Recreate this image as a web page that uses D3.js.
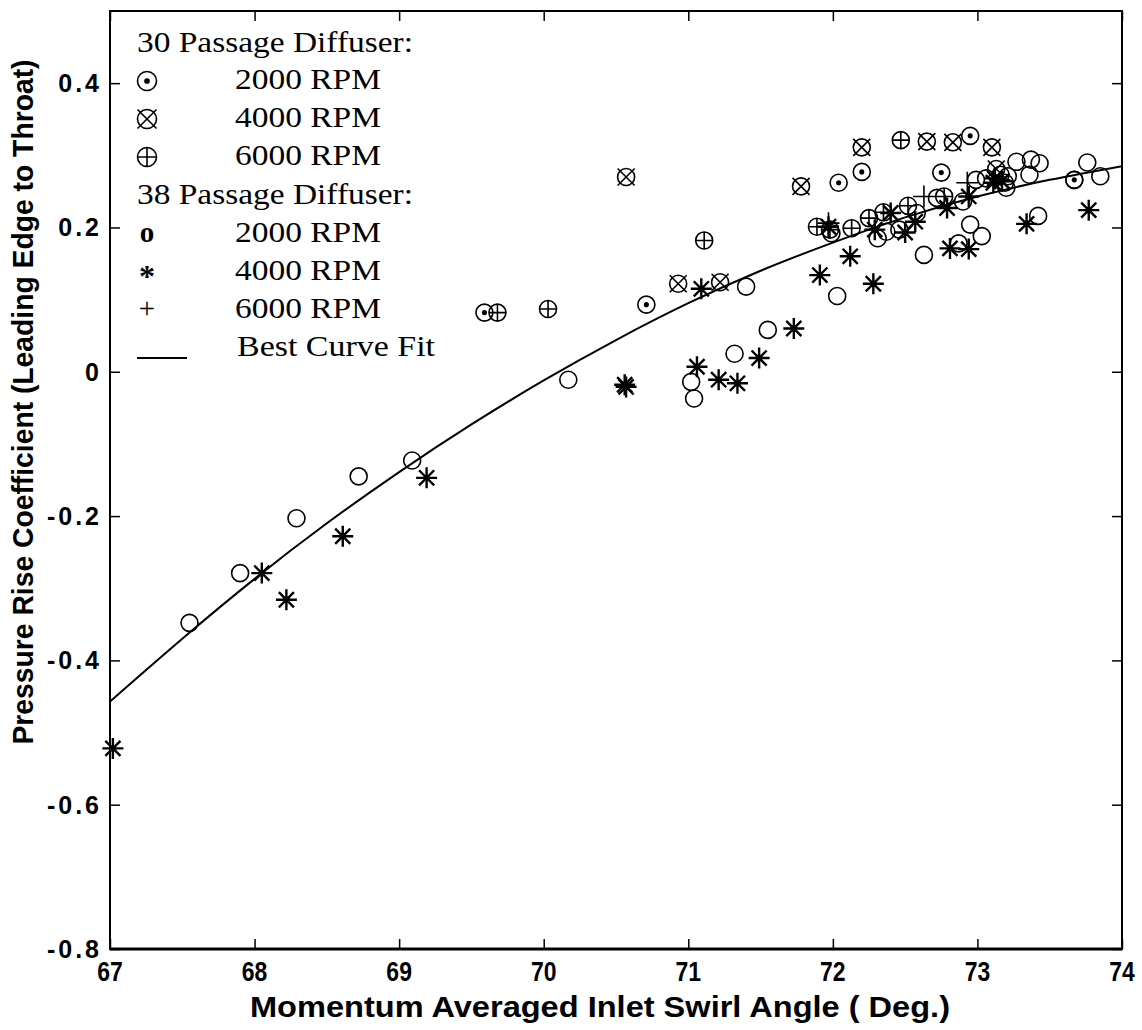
<!DOCTYPE html>
<html><head><meta charset="utf-8">
<script src="https://cdn.jsdelivr.net/npm/d3@7"></script>
<style>body{margin:0;background:#fff}</style>
</head><body>
<svg id="chart" width="1142" height="1030"></svg>
<script>
// ---- data ----
const xTicks = [67, 68, 69, 70, 71, 72, 73, 74];
const yTicks = [0.4, 0.2, 0, -0.2, -0.4, -0.6, -0.8];
const yTickLabels = ["0.4", "0.2", "0", "-0.2", "-0.4", "-0.6", "-0.8"];

// 30 passage diffuser
const p30_2000 = [[69.59,0.082],[70.71,0.093],[72.04,0.262],[72.20,0.277],[72.75,0.276],[72.95,0.327],[73.67,0.266]];
const p30_4000 = [[70.57,0.270],[70.93,0.122],[71.22,0.124],[71.78,0.257],[72.20,0.311],[72.65,0.319],[72.83,0.318],[73.10,0.311],[73.13,0.281]];
const p30_6000 = [[69.68,0.082],[70.03,0.087],[71.11,0.182],[71.89,0.201],[71.98,0.197],[72.13,0.199],[72.25,0.213],[72.35,0.221],[72.47,0.321],[72.52,0.230],[72.77,0.243]];
// 38 passage diffuser
const p38_2000 = [[67.55,-0.348],[67.90,-0.279],[68.29,-0.203],[68.72,-0.145],[69.09,-0.123],[70.17,-0.011],
  [71.02,-0.014],[71.04,-0.037],[71.32,0.025],[71.40,0.118],[71.55,0.058],[71.99,0.192],[72.03,0.105],
  [72.31,0.185],[72.37,0.194],[72.46,0.197],[72.58,0.220],[72.63,0.162],[72.72,0.241],[72.87,0.178],
  [72.90,0.236],[72.95,0.204],[73.03,0.188],[72.99,0.266],[73.06,0.268],[73.16,0.273],[73.21,0.271],
  [73.19,0.262],[73.20,0.255],[73.27,0.291],[73.37,0.294],[73.43,0.289],[73.36,0.273],[73.42,0.216],
  [73.67,0.266],[73.76,0.290],[73.85,0.271]];
const p38_4000 = [[67.02,-0.522],[68.05,-0.279],[68.22,-0.316],[68.61,-0.228],[69.19,-0.147],[70.56,-0.018],
  [70.57,-0.021],[71.06,0.007],[71.09,0.115],[71.21,-0.011],[71.34,-0.016],[71.49,0.019],[71.73,0.060],
  [71.91,0.134],[71.97,0.201],[72.12,0.160],[72.28,0.122],[72.29,0.197],[72.40,0.220],[72.50,0.193],
  [72.57,0.208],[72.79,0.227],[72.81,0.171],[72.94,0.243],[72.94,0.170],[73.12,0.268],[73.17,0.264],
  [73.11,0.262],[73.34,0.205],[73.77,0.224]];
const p38_6000 = [[71.97,0.206],[72.63,0.243],[72.93,0.262]];
// best curve fit
const fitX = [67, 67.5, 68, 68.5, 69, 69.5, 70, 70.5, 71, 71.5, 72, 72.5, 73, 73.5, 74];
const fitY = [-0.457, -0.370, -0.287, -0.210, -0.139, -0.073, -0.012, 0.044, 0.095, 0.140, 0.179, 0.214, 0.243, 0.266, 0.285];

// ---- layout ----
const L = 110, R = 1122, T = 11, B = 949;
const svg = d3.select("#chart");
const x = d3.scaleLinear().domain([67, 74]).range([L, R]);
const y = d3.scaleLinear().domain([-0.8, 0.5]).range([B, T]);
const sansB = "'Liberation Sans', Arial, sans-serif";
const serif = "'Liberation Serif', 'Times New Roman', serif";

// frame
svg.append("rect").attr("x", L).attr("y", T).attr("width", R - L).attr("height", B - T)
  .attr("fill", "none").attr("stroke", "#000").attr("stroke-width", 2);
svg.append("line").attr("x1", L).attr("x2", R).attr("y1", B).attr("y2", B)
  .attr("stroke", "#000").attr("stroke-width", 3);

// axes with inward ticks
const tl = 10;
svg.append("g").attr("transform", `translate(0,${B})`)
  .call(d3.axisBottom(x).tickValues(xTicks).tickSize(-tl).tickFormat(""))
  .call(g => g.select(".domain").remove());
svg.append("g").attr("transform", `translate(0,${T})`)
  .call(d3.axisTop(x).tickValues(xTicks).tickSize(-tl).tickFormat(""))
  .call(g => g.select(".domain").remove());
svg.append("g").attr("transform", `translate(${L},0)`)
  .call(d3.axisLeft(y).tickValues(yTicks).tickSize(-tl).tickFormat(""))
  .call(g => g.select(".domain").remove());
svg.append("g").attr("transform", `translate(${R},0)`)
  .call(d3.axisRight(y).tickValues(yTicks).tickSize(-tl).tickFormat(""))
  .call(g => g.select(".domain").remove());
svg.selectAll(".tick line").attr("stroke", "#000").attr("stroke-width", 1.5);

// tick labels
svg.append("g").selectAll("text").data(xTicks).join("text")
  .attr("x", d => x(d)).attr("y", B + 32).attr("text-anchor", "middle")
  .attr("font-family", sansB).attr("font-weight", "bold").attr("font-size", 28)
  .attr("transform", d => `translate(${x(d)},0) scale(0.82,1) translate(${-x(d)},0)`)
  .text(d => d);
svg.append("g").selectAll("text").data(yTicks).join("text")
  .attr("x", L - 8).attr("y", d => y(d) + 9).attr("text-anchor", "end")
  .attr("font-family", sansB).attr("font-weight", "bold").attr("font-size", 25)
  .attr("letter-spacing", 3)
  .text((d, i) => yTickLabels[i]);

// axis titles
svg.append("text").attr("x", 600).attr("y", 1017).attr("text-anchor", "middle")
  .attr("font-family", sansB).attr("font-weight", "bold").attr("font-size", 29)
  .attr("textLength", 700).attr("lengthAdjust", "spacingAndGlyphs")
  .text("Momentum Averaged Inlet Swirl Angle ( Deg.)");
svg.append("text").attr("transform", "translate(33,402) rotate(-90)").attr("text-anchor", "middle")
  .attr("font-family", sansB).attr("font-weight", "bold").attr("font-size", 29)
  .attr("textLength", 685).attr("lengthAdjust", "spacingAndGlyphs")
  .text("Pressure Rise Coefficient (Leading Edge to Throat)");

// clip for data
svg.append("clipPath").attr("id", "clip").append("rect")
  .attr("x", L - 12).attr("y", T).attr("width", R - L + 12).attr("height", B - T);
const plot = svg.append("g").attr("clip-path", "url(#clip)");

// fit curve
plot.append("path").datum(fitX.map((d, i) => [d, fitY[i]]))
  .attr("d", d3.line().x(d => x(d[0])).y(d => y(d[1])).curve(d3.curveNatural))
  .attr("fill", "none").attr("stroke", "#000").attr("stroke-width", 2);

// marker drawing
const r = 8.5, sw = 1.6;
function circle(g, s) { g.append("circle").attr("r", s).attr("fill", "none").attr("stroke", "#000").attr("stroke-width", sw); }
function dot(g, s) { circle(g, s); g.append("circle").attr("r", s * 0.3).attr("fill", "#000"); }
function xcirc(g, s) { circle(g, s); g.append("path").attr("d", `M${-s},${-s}L${s},${s}M${-s},${s}L${s},${-s}`).attr("stroke", "#000").attr("stroke-width", sw); }
function pcirc(g, s) { circle(g, s); g.append("path").attr("d", `M${-s},0L${s},0M0,${-s}L0,${s}`).attr("stroke", "#000").attr("stroke-width", sw); }
function star(g, s) {
  const a = s * 0.72;
  g.append("path").attr("d", `M${-s},0L${s},0M0,${-s}L0,${s}M${-a},${-a}L${a},${a}M${-a},${a}L${a},${-a}`)
    .attr("stroke", "#000").attr("stroke-width", 2.4);
}
function plus(g, s) { g.append("path").attr("d", `M${-s},0L${s},0M0,${-s}L0,${s}`).attr("stroke", "#000").attr("stroke-width", sw); }

function series(data, fn, size) {
  plot.append("g").selectAll("g").data(data).join("g")
    .attr("transform", d => `translate(${x(d[0])},${y(d[1])})`)
    .each(function () { fn(d3.select(this), size); });
}
series(p38_2000, circle, r);
series(p38_4000, star, 10.5);
series(p38_6000, plus, 11);
series(p30_2000, dot, r);
series(p30_4000, xcirc, r);
series(p30_6000, pcirc, r);

// legend
const lg = svg.append("g").attr("font-family", serif).attr("font-size", 29);
const lx = 137, sx = 147, tx = 235;
const fit = "spacingAndGlyphs";
lg.append("text").attr("x", lx).attr("y", 52).attr("textLength", 276).attr("lengthAdjust", fit).text("30 Passage Diffuser:");
const leg30 = [[dot, "2000 RPM", 89], [xcirc, "4000 RPM", 127], [pcirc, "6000 RPM", 165]];
leg30.forEach(([fn, t, by]) => {
  fn(lg.append("g").attr("transform", `translate(${sx},${by - 8})`), 9.5);
  lg.append("text").attr("x", tx).attr("y", by).attr("textLength", 146).attr("lengthAdjust", fit).text(t);
});
lg.append("text").attr("x", lx).attr("y", 204).attr("textLength", 276).attr("lengthAdjust", fit).text("38 Passage Diffuser:");
const leg38 = [["o", "2000 RPM", 242], ["*", "4000 RPM", 280], ["+", "6000 RPM", 318]];
leg38.forEach(([sym, t, by]) => {
  lg.append("text").attr("x", sx).attr("y", by + (sym === "*" ? 7 : 0)).attr("text-anchor", "middle")
    .attr("font-weight", sym === "+" ? "normal" : "bold")
    .attr("font-size", sym === "*" ? 32 : 29).text(sym);
  lg.append("text").attr("x", tx).attr("y", by).attr("textLength", 146).attr("lengthAdjust", fit).text(t);
});
lg.append("line").attr("x1", lx).attr("x2", 187).attr("y1", 358).attr("y2", 358)
  .attr("stroke", "#000").attr("stroke-width", 2);
lg.append("text").attr("x", 237).attr("y", 356).attr("textLength", 198).attr("lengthAdjust", fit).text("Best Curve Fit");
</script>
</body></html>
